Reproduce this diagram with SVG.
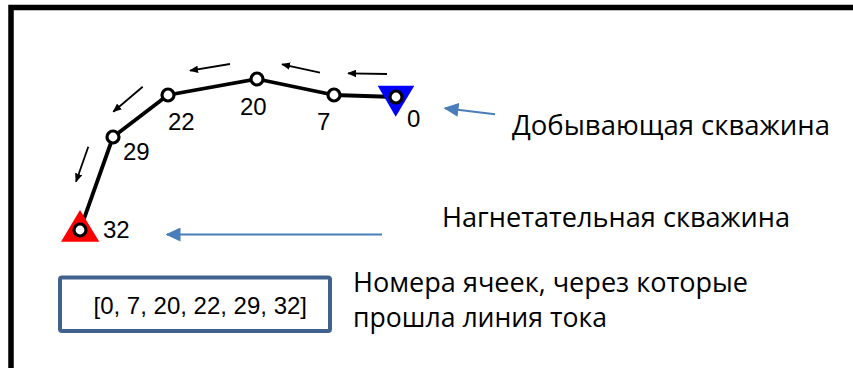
<svg xmlns="http://www.w3.org/2000/svg" width="853" height="368" viewBox="0 0 853 368">
<style>
.num{font-family:"Liberation Sans",Arial,sans-serif;font-size:24px;fill:#000}
.lbl{font-family:"Open Sans","Noto Sans",sans-serif;font-size:28px;fill:#000}
.cell{fill:#fff;stroke:#000;stroke-width:3.2}
.flow{stroke:#000;stroke-width:1.8;fill:none}
.ptr{stroke:#4a7ebb;stroke-width:2;fill:none}
</style>
<defs>
<marker id="bh" viewBox="0 0 10 10" refX="9" refY="5" markerWidth="9" markerHeight="7.5" markerUnits="userSpaceOnUse" orient="auto" preserveAspectRatio="none">
<path d="M0,0 L10,5 L0,10 Z" fill="#000"/>
</marker>
<marker id="blh" viewBox="0 0 10 10" refX="9" refY="5" markerWidth="15" markerHeight="14" markerUnits="userSpaceOnUse" orient="auto" preserveAspectRatio="none">
<path d="M0,0 L10,5 L0,10 Z" fill="#4a7ebb"/>
</marker>
</defs>
<rect width="853" height="368" fill="#fff"/>
<rect x="11" y="7.5" width="900" height="400" fill="none" stroke="#000" stroke-width="5.5"/>

<g id="connectors">
<polyline points="396,97 334,95 257,79 168,95 113,137 80,230" fill="none" stroke="#000" stroke-width="3.8" stroke-linejoin="round"/>
<line class="flow" x1="387" y1="74" x2="348" y2="73.3" marker-end="url(#bh)"/>
<line class="flow" x1="320" y1="72.7" x2="282" y2="64.3" marker-end="url(#bh)"/>
<line class="flow" x1="230" y1="64" x2="190" y2="70.7" marker-end="url(#bh)"/>
<line class="flow" x1="142.7" y1="86.7" x2="113.3" y2="111.7" marker-end="url(#bh)"/>
<line class="flow" x1="88.3" y1="146.7" x2="76" y2="181.7" marker-end="url(#bh)"/>
<line class="ptr" x1="495" y1="114.3" x2="445" y2="108.3" marker-end="url(#blh)"/>
<line class="ptr" x1="382" y1="234.5" x2="167" y2="234.5" marker-end="url(#blh)"/>
</g>

<g id="well-producer">
<polygon points="377.7,85.7 414.3,85.7 395.7,116.7" fill="#0000ff"/>
</g>
<g id="well-injector">
<polygon points="80,210 61,241.7 99.3,241.7" fill="#ff0000"/>
</g>

<g id="cell-0"><circle class="cell" cx="396" cy="97" r="6"/><text class="num" x="407" y="127">0</text></g>
<g id="cell-7"><circle class="cell" cx="334" cy="95" r="6"/><text class="num" x="317" y="130">7</text></g>
<g id="cell-20"><circle class="cell" cx="257" cy="79" r="6"/><text class="num" x="240" y="115">20</text></g>
<g id="cell-22"><circle class="cell" cx="168" cy="95" r="6"/><text class="num" x="168" y="130">22</text></g>
<g id="cell-29"><circle class="cell" cx="113" cy="137" r="6"/><text class="num" x="123" y="160">29</text></g>
<g id="cell-32"><circle class="cell" cx="80" cy="230" r="6"/><text class="num" x="103" y="238">32</text></g>

<g id="label-producer"><text class="lbl" x="512" y="135" textLength="318" lengthAdjust="spacingAndGlyphs">Добывающая скважина</text></g>
<g id="label-injector"><text class="lbl" x="442" y="227" textLength="348" lengthAdjust="spacingAndGlyphs">Нагнетательная скважина</text></g>

<g id="cell-list">
<rect x="60" y="277.5" width="270" height="53.5" rx="2" fill="#fff" stroke="#41618f" stroke-width="4"/>
<text class="num" x="93.5" y="314">[0, 7, 20, 22, 29, 32]</text>
</g>
<g id="label-list">
<text class="lbl" x="353" y="292" textLength="395" lengthAdjust="spacingAndGlyphs">Номера ячеек, через которые</text>
<text class="lbl" x="353" y="327" textLength="254" lengthAdjust="spacingAndGlyphs">прошла линия тока</text>
</g>
</svg>
